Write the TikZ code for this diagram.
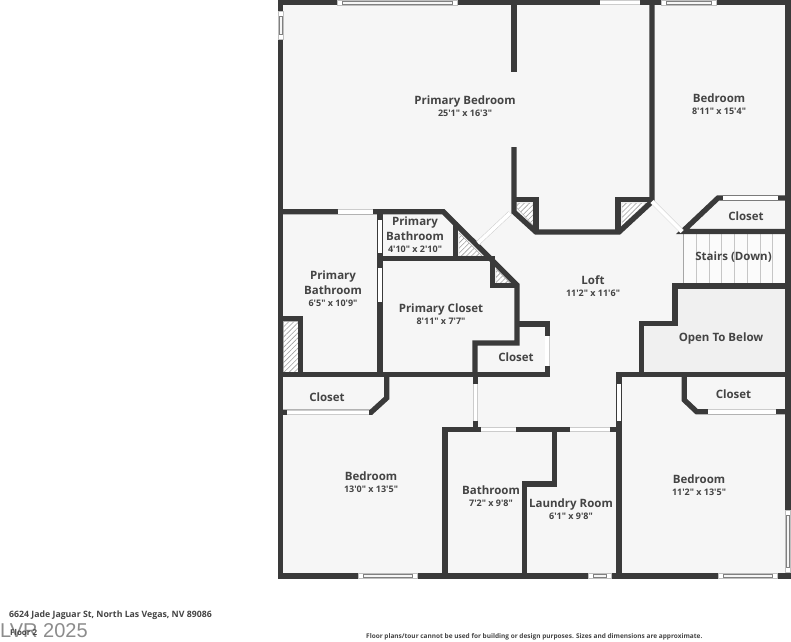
\documentclass[tikz,border=0pt]{standalone}
\usepackage{fontspec}
\newfontfamily\planfont{Open Sans}
\usepackage{xcolor}
\usetikzlibrary{patterns.meta}
\definecolor{wallgray}{HTML}{3A3A3A}
\definecolor{floorgray}{HTML}{F6F6F6}
\definecolor{voidgray}{HTML}{F0F0F0}
\definecolor{inkgray}{HTML}{444444}
\tikzstyle{wall} = [draw=wallgray, line width=5.3pt, line join=miter]
\tikzstyle{gap} = [draw=gray!40, double=white, double distance=3.6pt, line width=0.5pt]
\tikzstyle{hatch} = [draw=gray!60, line width=0.4pt, fill=white, postaction={pattern={Lines[angle=45,distance=3.6pt,line width=0.6pt]}, pattern color=gray!75}]
\newcommand{\winh}[3]{%
	\draw[fill=white, draw=gray!50, line width=0.4pt] (#1,#3-2.5) rectangle (#2,#3+2.5);
	\draw[fill=floorgray, draw=gray, line width=0.5pt] ({#1+5},#3-1.5) rectangle ({#2-5},#3+1.5);}
\newcommand{\winv}[3]{%
	\draw[fill=white, draw=gray!50, line width=0.4pt] (#3-2.5,#1) rectangle (#3+2.5,#2);
	\draw[fill=floorgray, draw=gray, line width=0.5pt] (#3-1.5,{#1+5}) rectangle (#3+1.5,{#2-5});}

\begin{document}
\begin{tikzpicture}[x=1pt, y=-1pt,
		room/.style={font=\planfont\bfseries\fontsize{11.5}{14.6}\selectfont, text=inkgray, align=center, inner sep=0pt},
		size/.style={font=\planfont\bfseries\fontsize{9}{10}\selectfont, text=inkgray, inner sep=0pt},
		legal/.style={font=\planfont\bfseries\fontsize{6.5}{8}\selectfont, text=inkgray, inner sep=0pt, anchor=west}]
		
		\useasboundingbox (0,0) rectangle (791,641);
		\fill[white] (0,0) rectangle (791,641);
		\fill[floorgray] (280,0) rectangle (788,576);
		\fill[voidgray] (675,286) -- (788,286) -- (788,374) -- (641,374) -- (641,324) -- (675,324) -- cycle;
		\fill[white!60!floorgray] (683,232) rectangle (786,286);
		
		% stairs
		\foreach \stepx in {696.7,709.3,721.7,734.3,747.3,760,772.7}
			\draw[gray!45, line width=0.5pt] (\stepx,234) -- (\stepx,284);
		\draw[gray!70, line width=0.6pt] (683,232) -- (683,286);
		
		% hatched shafts
		\draw[hatch] (517,203) -- (533,203) -- (533,225) -- (517,208) -- cycle;
		\draw[hatch] (622,203) -- (646,203) -- (622,226) -- cycle;
		\draw[hatch] (459,233) -- (459,256) -- (482,256) -- cycle;
		\draw[hatch] (496,269) -- (496,283) -- (510,283) -- cycle;
		\draw[hatch] (283,321) rectangle (298,372);
		
		% outer walls
		\draw[wall] (280.5,0) -- (280.5,576) -- (788,576) -- (788,0);
		\draw[wall] (278,2.5) -- (790.5,2.5);
		
		% upper walls
		\draw[wall] (514,0) -- (514,72);
		\draw[wall] (514,147) -- (514,212) -- (536,232) -- (619,232) -- (652,201.5) -- (652,0);
		\draw[wall] (512,199.5) -- (536,199.5) -- (536,232);
		\draw[wall] (618,232) -- (618,199.5) -- (654,199.5);
		\draw[wall] (788,198) -- (718,198) -- (682.5,231.5) -- (788,231.5);
		\draw[wall] (788,286) -- (675,286) -- (675,323.5) -- (641.5,323.5) -- (641.5,374);
		
		% primary suite
		\draw[wall] (280,211.7) -- (443.3,211.7) -- (517,285) -- (517,343) -- (475,343) -- (475,374);
		\draw[wall] (380,212) -- (380,374);
		\draw[wall] (380,258.7) -- (492.7,258.7) -- (492.7,285.7) -- (517,285.7);
		\draw[wall] (455.7,222) -- (455.7,258.7);
		\draw[wall] (280,318.3) -- (300.7,318.3) -- (300.7,374);
		\draw[wall] (517,324) -- (547.2,324) -- (547.2,376.5);
		
		% lower walls
		\draw[wall] (280,374.3) -- (549.7,374.3);
		\draw[wall] (616,374.3) -- (788,374.3);
		\draw[wall] (386.7,374) -- (386.7,398) -- (371,412.3) -- (280,412.3);
		\draw[wall] (475.3,374) -- (475.3,429);
		\draw[wall] (445,576) -- (445,429.3) -- (619,429.3);
		\draw[wall] (619,374) -- (619,576);
		\draw[wall] (554.3,429) -- (554.3,484) -- (524.5,484) -- (524.5,576);
		\draw[wall] (684.3,374) -- (684.3,400) -- (696.7,411.7) -- (788,411.7);
		
		% openings
		\draw[gap] (600,2.5) -- (640,2.5);
		\draw[gap] (723,198) -- (778,198);
		\draw[gap] (652,201.5) -- (682,231.5);
		\draw[gap] (510,213) -- (478,243);
		\draw[gap] (337.7,211.7) -- (372.7,211.7);
		\draw[gap] (380,220) -- (380,253);
		\draw[gap] (380,268) -- (380,302);
		\draw[gap] (547.2,336) -- (547.2,366);
		\draw[gap] (475.3,384) -- (475.3,421);
		\draw[gap] (619,384) -- (619,421);
		\draw[gap] (481,429.3) -- (516,429.3);
		\draw[gap] (570,429.3) -- (610,429.3);
		\draw[gap] (287,412.3) -- (369,412.3);
		\draw[gap] (708,411.7) -- (776,411.7);
		
		% windows
		\winh{337}{457}{2.5}
		\winh{661}{716}{2.5}
		\winv{11}{39}{280.5}
		\winh{358}{417}{576}
		\winh{588.5}{611}{576}
		\winh{718}{777}{576}
		\winv{510}{572}{788}
		
		% labels
		\node (bedPrimary) [room] at (465,102) {Primary Bedroom};
		\node (bedPrimarySize) [size] at (465,113.5) {25'1" x 16'3"};
		\node (bedNorth) [room] at (719,98) {Bedroom};
		\node (bedNorthSize) [size] at (719,111.5) {8'11" x 15'4"};
		\node (closetNorth) [room] at (746,216) {Closet};
		\node (bathSmall) [room] at (415,228.5) {Primary\\Bathroom};
		\node (bathSmallSize) [size] at (415,249) {4'10" x 2'10"};
		\node (bathLarge) [room] at (333,282.5) {Primary\\Bathroom};
		\node (bathLargeSize) [size] at (333,303) {6'5" x 10'9"};
		\node (closetPrimary) [room] at (441,310) {Primary Closet};
		\node (closetPrimarySize) [size] at (441,321) {8'11" x 7'7"};
		\node (loft) [room] at (593,280) {Loft};
		\node (loftSize) [size] at (593,293) {11'2" x 11'6"};
		\node (stairs) [room] at (733.5,257.5) {Stairs (Down)};
		\node (openBelow) [room] at (721,339) {Open To Below};
		\node (closetLoft) [room] at (516,357) {Closet};
		\node (closetWest) [room] at (327,397) {Closet};
		\node (closetEast) [room] at (733.5,394) {Closet};
		\node (bedWest) [room] at (371,476) {Bedroom};
		\node (bedWestSize) [size] at (371,489) {13'0" x 13'5"};
		\node (bath) [room] at (491,490) {Bathroom};
		\node (bathSize) [size] at (491,503.5) {7'2" x 9'8"};
		\node (laundry) [room] at (571,504) {Laundry Room};
		\node (laundrySize) [size] at (571,516.5) {6'1" x 9'8"};
		\node (bedEast) [room] at (699,479) {Bedroom};
		\node (bedEastSize) [size] at (699,492) {11'2" x 13'5"};
		
		% footer
		\node (mark) [anchor=west, inner sep=0pt, text=gray!90, font=\fontspec{Liberation Sans}\fontsize{20}{22}\selectfont] at (0,631) {LVR 2025};
		\node (address) [legal, font=\planfont\bfseries\fontsize{8.75}{10}\selectfont] at (9,615.5) {6624 Jade Jaguar St, North Las Vegas, NV 89086};
		\node (floorNo) [legal, font=\planfont\bfseries\fontsize{8}{9}\selectfont] at (10,632.5) {Floor 2};
		\node (notice) [legal] at (366,636.5) {Floor plans/tour cannot be used for building or design purposes. Sizes and dimensions are approximate.};
	\end{tikzpicture}
\end{document}
